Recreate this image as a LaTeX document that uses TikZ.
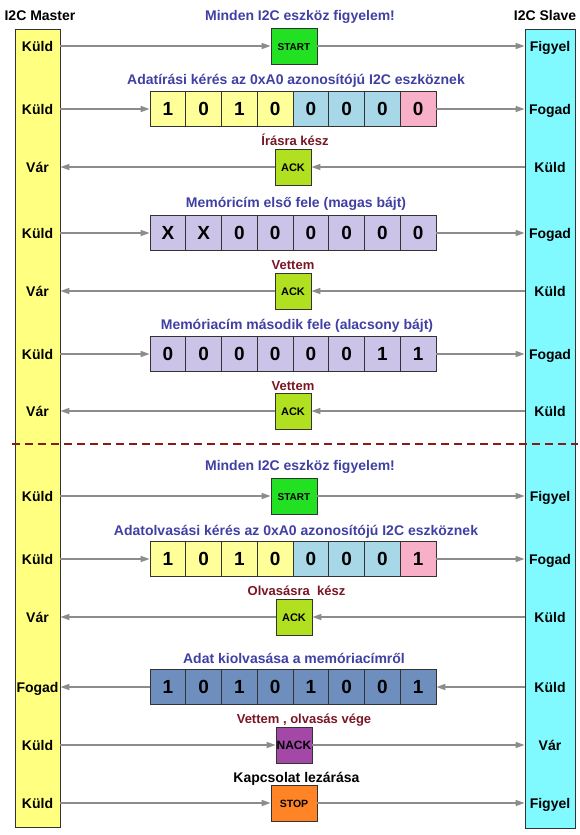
\documentclass[tikz,border=0pt]{standalone}
\usepackage{fontspec}
\setmainfont{Liberation Sans}
\usetikzlibrary{arrows.meta}

\definecolor{mastercol}{HTML}{FFFF80}
\definecolor{slavecol}{HTML}{80FAFF}
\definecolor{bityellow}{HTML}{FFFF99}
\definecolor{bitblue}{HTML}{A8D8E8}
\definecolor{bitpink}{HTML}{F8B0C8}
\definecolor{bitlilac}{HTML}{CCC4E8}
\definecolor{bitsteel}{HTML}{6E8FBE}
\definecolor{ackgreen}{HTML}{B0E020}
\definecolor{startgreen}{HTML}{22E022}
\definecolor{nackpurple}{HTML}{A448A8}
\definecolor{stoporange}{HTML}{FF8426}
\definecolor{titleblue}{HTML}{4040A4}
\definecolor{replyred}{HTML}{7A1525}
\definecolor{cutred}{HTML}{8B1A1A}
\definecolor{siggray}{HTML}{8C8C8C}

\begin{document}
\begin{tikzpicture}[x=1pt,y=-1pt,
    busbar/.style={draw=black!80,line width=0.8pt,inner sep=0pt},
    sidelabel/.style={font=\fontsize{14}{16}\selectfont\bfseries,text height=10pt,text depth=0pt,inner sep=0pt},
    bitcell/.style={draw=black!80,line width=0.8pt,minimum width=35.75pt,minimum height=35pt,inner sep=0pt,
        font=\fontsize{19}{21}\selectfont\bfseries,text height=13.5pt,text depth=0pt},
    flagbox/.style={draw=black!80,line width=0.8pt,minimum width=36pt,minimum height=36pt,inner sep=0pt,
        font=\fontsize{11}{12}\selectfont\bfseries,text height=8pt,text depth=0pt},
    headline/.style={text=titleblue,font=\fontsize{14}{16}\selectfont\bfseries,text height=10pt,text depth=0pt,inner sep=0pt},
    answer/.style={text=replyred,font=\fontsize{13}{15}\selectfont\bfseries,text height=9pt,text depth=0pt,inner sep=0pt},
    sig/.style={draw=siggray,line width=1.6pt,-{Triangle[length=9pt,width=6pt]}},
]
\useasboundingbox (0,0) rectangle (580,835);

% the two devices
\node[busbar,fill=mastercol,minimum width=45pt,minimum height=798pt] (master) at (37.5,428) {};
\node[busbar,fill=slavecol,minimum width=50pt,minimum height=799pt] (slave) at (550,428.5) {};
\node[sidelabel] (mhead) at (40,15) {I2C Master};
\node[sidelabel] (shead) at (545,15) {I2C Slave};

\foreach \y/\t [count=\i] in {46/Küld,109/Küld,167/Vár,233/Küld,291/Vár,354/Küld,411/Vár,
        496/Küld,559/Küld,617/Vár,687/Fogad,745/Küld,803/Küld}
    \node[sidelabel] (m\i) at (37.5,\y) {\t};
\foreach \y/\t [count=\i] in {46/Figyel,109/Fogad,167/Küld,233/Fogad,291/Küld,354/Fogad,411/Küld,
        496/Figyel,559/Fogad,617/Küld,687/Küld,745/Vár,803/Figyel}
    \node[sidelabel] (s\i) at (550,\y) {\t};

% write: start, address, memory address
\node[headline] (t1) at (300,15) {Minden I2C eszköz figyelem!};
\node[flagbox,fill=startgreen,minimum width=46pt,font=\fontsize{10}{12}\selectfont\bfseries] (start1) at (294,46) {START};

\node[headline] (t2) at (296,79) {Adatírási kérés az 0xA0 azonosítójú I2C eszköznek};
\foreach \v/\c [count=\i] in {1/bityellow,0/bityellow,1/bityellow,0/bityellow,0/bitblue,0/bitblue,0/bitblue,0/bitpink}
    \node[bitcell,fill=\c] (waddr\i) at (132.125+35.75*\i,109) {\v};

\node[answer] (t3) at (295,141) {Írásra kész};
\node[flagbox,fill=ackgreen] (ack1) at (293,167) {ACK};

\node[headline] (t4) at (296,202) {Memóricím első fele (magas bájt)};
\foreach \v [count=\i] in {X,X,0,0,0,0,0,0}
    \node[bitcell,fill=bitlilac] (hi\i) at (132.125+35.75*\i,233) {\v};

\node[answer] (t5) at (293,265) {Vettem};
\node[flagbox,fill=ackgreen] (ack2) at (293,291) {ACK};

\node[headline] (t6) at (297,324) {Memóriacím második fele (alacsony bájt)};
\foreach \v [count=\i] in {0,0,0,0,0,0,1,1}
    \node[bitcell,fill=bitlilac] (lo\i) at (132.125+35.75*\i,354) {\v};

\node[answer] (t7) at (293,386) {Vettem};
\node[flagbox,fill=ackgreen] (ack3) at (293,411) {ACK};

% read: start again, address, data, stop
\node[headline] (t8) at (300,465) {Minden I2C eszköz figyelem!};
\node[flagbox,fill=startgreen,minimum width=46pt,font=\fontsize{10}{12}\selectfont\bfseries] (start2) at (294,496) {START};

\node[headline] (t9) at (296,530) {Adatolvasási kérés az 0xA0 azonosítójú I2C eszköznek};
\foreach \v/\c [count=\i] in {1/bityellow,0/bityellow,1/bityellow,0/bityellow,0/bitblue,0/bitblue,0/bitblue,1/bitpink}
    \node[bitcell,fill=\c] (raddr\i) at (132.125+35.75*\i,559) {\v};

\node[answer] (t10) at (296.5,591) {Olvasásra\ \ kész};
\node[flagbox,fill=ackgreen] (ack4) at (294,617) {ACK};

\node[headline] (t11) at (294,658) {Adat kiolvasása a memóriacímről};
\foreach \v [count=\i] in {1,0,1,0,1,0,0,1}
    \node[bitcell,fill=bitsteel] (data\i) at (132.125+35.75*\i,687) {\v};

\node[answer] (t12) at (304,719) {Vettem , olvasás vége};
\node[flagbox,fill=nackpurple,font=\fontsize{12}{13}\selectfont\bfseries] (nack) at (294,745) {NACK};

\node[headline,text=black] (t13) at (296.5,777) {Kapcsolat lezárása};
\node[flagbox,fill=stoporange,minimum width=46pt,font=\fontsize{10.5}{12}\selectfont\bfseries] (stop) at (294,803) {STOP};

% signals
\draw[sig] (m1 -| master.east) -- (start1);
\draw[sig] (start1) -- (s1 -| slave.west);
\draw[sig] (m2 -| master.east) -- (waddr1);
\draw[sig] (waddr8) -- (s2 -| slave.west);
\draw[sig] (s3 -| slave.west) -- (ack1);
\draw[sig] (ack1) -- (m3 -| master.east);
\draw[sig] (m4 -| master.east) -- (hi1);
\draw[sig] (hi8) -- (s4 -| slave.west);
\draw[sig] (s5 -| slave.west) -- (ack2);
\draw[sig] (ack2) -- (m5 -| master.east);
\draw[sig] (m6 -| master.east) -- (lo1);
\draw[sig] (lo8) -- (s6 -| slave.west);
\draw[sig] (s7 -| slave.west) -- (ack3);
\draw[sig] (ack3) -- (m7 -| master.east);

\draw[sig] (m8 -| master.east) -- (start2);
\draw[sig] (start2) -- (s8 -| slave.west);
\draw[sig] (m9 -| master.east) -- (raddr1);
\draw[sig] (raddr8) -- (s9 -| slave.west);
\draw[sig] (s10 -| slave.west) -- (ack4);
\draw[sig] (ack4) -- (m10 -| master.east);
\draw[sig] (s11 -| slave.west) -- (data8);
\draw[sig] (data1) -- (m11 -| master.east);
\draw[sig] (m12 -| master.east) -- (nack);
\draw[sig] (nack) -- (s12 -| slave.west);
\draw[sig] (m13 -| master.east) -- (stop);
\draw[sig] (stop) -- (s13 -| slave.west);

% write / read border
\coordinate (cutl) at (12,444);
\coordinate (cutr) at (578,444);
\draw[cutred,line width=1.3pt,dash pattern=on 8pt off 5pt] (cutl) -- (cutr);

\end{tikzpicture}
\end{document}
